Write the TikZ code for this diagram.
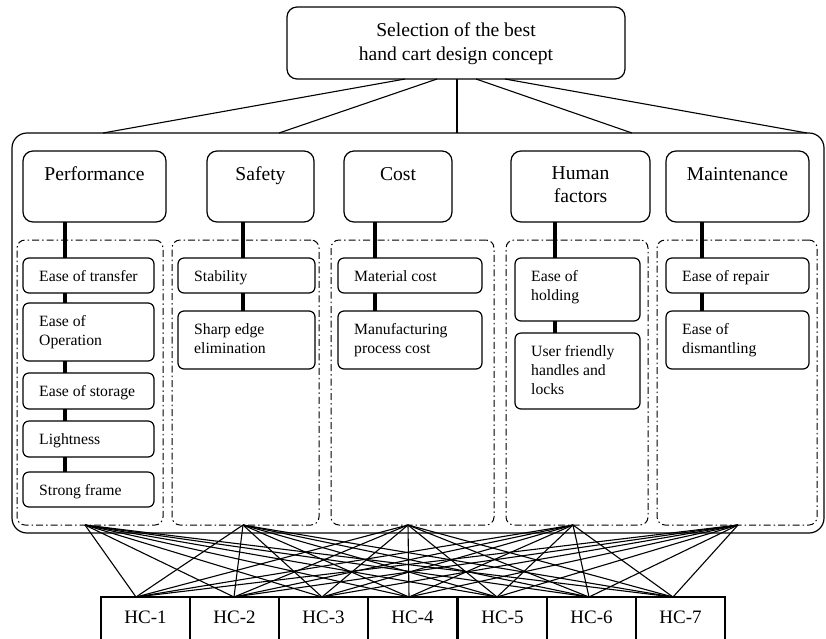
\documentclass[tikz,border=0pt]{standalone}
\usepackage{fontspec}
\setmainfont{Liberation Serif}
\begin{document}
\begin{tikzpicture}[x=1pt,y=-1pt,
  bx/.style={draw, line width=1.2pt, rounded corners=#1, inner sep=0pt, outer sep=0pt, anchor=north west},
  bx/.default=6pt,
  grp/.style={draw, line width=1pt, rounded corners=8pt, dash pattern=on 7pt off 3pt on 1.5pt off 3pt, inner sep=0pt, outer sep=0pt, anchor=north west},
  hcbox/.style={draw, line width=1.2pt, inner sep=0pt, outer sep=0pt, anchor=north west},
  subtxt/.style={font=\fontsize{15.7}{19}\selectfont, align=left, anchor=base west, inner sep=0pt},
  cattxt/.style={font=\fontsize{19.6}{23}\selectfont, align=center, anchor=base, inner sep=0pt},
  hctxt/.style={font=\fontsize{19}{23}\selectfont, anchor=base, inner sep=0pt},
  thin/.style={line width=1.1pt},
  thick/.style={line width=4.5pt}
]
\useasboundingbox (0,0) rectangle (826,638);
\newcommand\mybox[6]{\node[#1, minimum width={(#5-#3)*1pt}, minimum height={(#6-#4)*1pt}] (#2) at (#3,#4) {};}
\newcommand\stxt[5]{\node[subtxt] (#1) at (#2+16,#3+23+#4*19-19) {#5};}

% top box
\mybox{bx=10pt}{top}{287}{7}{625}{79}
\node[cattxt, font=\fontsize{19.6}{24}\selectfont] (toptxt) at (456,60) {Selection of the best\\hand cart design concept};

% big box
\mybox{bx=15pt}{big}{12}{133}{824}{533}

% connectors top -> big box
\foreach \a/\b in {405/103,437/279,457/457,476/632,505/807}{
  \coordinate (ta\a) at (\a,79);
  \coordinate (tb\b) at (\b,133);
  \draw[thin] (ta\a) -- (tb\b);
}

% category boxes
\mybox{bx=10pt}{cP}{23}{151}{166}{222}
\mybox{bx=10pt}{cS}{207}{151}{314}{222}
\mybox{bx=10pt}{cC}{344}{151}{452}{222}
\mybox{bx=10pt}{cH}{511}{151}{650}{222}
\mybox{bx=10pt}{cM}{666}{151}{809}{222}
\node[cattxt] (tP) at (94.5,180) {Performance};
\node[cattxt] (tS) at (260.5,180) {Safety};
\node[cattxt] (tC) at (398,180) {Cost};
\node[cattxt] (tH) at (580.5,202) {Human\\factors};
\node[cattxt] (tM) at (737.5,180) {Maintenance};

% groups
\mybox{grp}{g1}{17}{240}{163}{525}
\mybox{grp}{g2}{172}{240}{319}{525}
\mybox{grp}{g3}{331}{240}{494}{525}
\mybox{grp}{g4}{506}{240}{648}{525}
\mybox{grp}{g5}{657}{240}{817}{525}

% sub boxes
\mybox{bx}{p1}{23}{258}{154}{293}
\mybox{bx}{p2}{23}{303}{154}{361}
\mybox{bx}{p3}{23}{373}{154}{409}
\mybox{bx}{p4}{23}{421}{154}{457}
\mybox{bx}{p5}{23}{472}{154}{507}
\mybox{bx}{s1}{178}{258}{315}{293}
\mybox{bx}{s2}{178}{311}{315}{369}
\mybox{bx}{c1}{338}{258}{482}{293}
\mybox{bx}{c2}{338}{311}{482}{369}
\mybox{bx}{h1}{515}{258}{640}{321}
\mybox{bx}{h2}{515}{333}{640}{409}
\mybox{bx}{m1}{666}{258}{809}{293}
\mybox{bx}{m2}{666}{311}{809}{369}

\stxt{tp1}{23}{258}{1}{Ease of transfer}
\stxt{tp2}{23}{303}{2}{Ease of\\Operation}
\stxt{tp3}{23}{373}{1}{Ease of storage}
\stxt{tp4}{23}{421}{1}{Lightness}
\stxt{tp5}{23}{472}{1}{Strong frame}
\stxt{ts1}{178}{258}{1}{Stability}
\stxt{ts2}{178}{311}{2}{Sharp edge\\elimination}
\stxt{tc1}{338}{258}{1}{Material cost}
\stxt{tc2}{338}{311}{2}{Manufacturing\\process cost}
\stxt{th1}{515}{258}{2}{Ease of\\holding}
\stxt{th2}{515}{333}{3}{User friendly\\handles and\\locks}
\stxt{tm1}{666}{258}{1}{Ease of repair}
\stxt{tm2}{666}{311}{2}{Ease of\\dismantling}

% thick connectors
\coordinate (xP) at (65,0);
\coordinate (xS) at (243,0);
\coordinate (xC) at (375,0);
\coordinate (xH) at (555,0);
\coordinate (xM) at (702,0);
\draw[thick] (cP.south -| xP) -- (p1.north -| xP);
\draw[thick] (p1.south -| xP) -- (p2.north -| xP);
\draw[thick] (p2.south -| xP) -- (p3.north -| xP);
\draw[thick] (p3.south -| xP) -- (p4.north -| xP);
\draw[thick] (p4.south -| xP) -- (p5.north -| xP);
\draw[thick] (cS.south -| xS) -- (s1.north -| xS);
\draw[thick] (s1.south -| xS) -- (s2.north -| xS);
\draw[thick] (cC.south -| xC) -- (c1.north -| xC);
\draw[thick] (c1.south -| xC) -- (c2.north -| xC);
\draw[thick] (cH.south -| xH) -- (h1.north -| xH);
\draw[thick] (h1.south -| xH) -- (h2.north -| xH);
\draw[thick] (cM.south -| xM) -- (m1.north -| xM);
\draw[thick] (m1.south -| xM) -- (m2.north -| xM);

% HC boxes
\foreach \i/\x in {1/101,2/190,3/279,4/368,5/458,6/547,7/636}{
  \node[hcbox, minimum width=89pt, minimum height=50pt] (hc\i) at (\x,597) {};
  \node[hctxt] (hct\i) at (\x+44.5,623) {HC-\i};
}

% lines groups -> HC
\foreach \s/\sx in {1/85,2/243,3/408,4/573,5/738}{
  \coordinate (src\s) at (\sx,525);
}
\foreach \t/\tx in {1/136,2/234,3/322,4/409,5/497,6/589,7/673}{
  \coordinate (dst\t) at (\tx,597);
}
\foreach \s in {1,...,5}{
  \foreach \t in {1,...,7}{
    \draw[thin] (src\s) -- (dst\t);
  }
}
\end{tikzpicture}
\end{document}
